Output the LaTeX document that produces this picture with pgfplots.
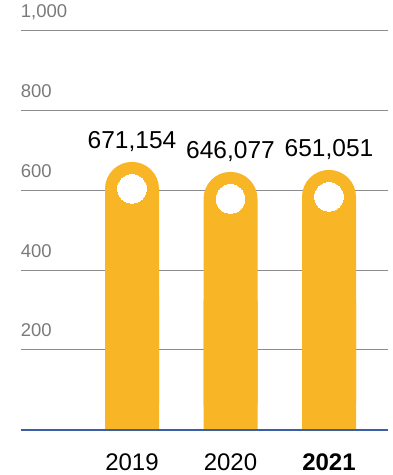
\documentclass[border=0pt]{standalone}
\usepackage{pgfplots}
\pgfplotsset{compat=1.18}
\usepackage{pgfplotstable}
\usepackage{fontspec}
\setmainfont{Liberation Sans}
\definecolor{barorange}{HTML}{F8B526}
\definecolor{gridgray}{HTML}{8C8C8C}
\definecolor{labgray}{HTML}{7A7A7A}
\definecolor{baseblue}{HTML}{3B5EA6}
\pgfplotstableread{
x v label
0 671.154 671,154
1 646.077 646,077
2 651.051 651,051
}\data
\begin{document}
\begin{tikzpicture}
\path[use as bounding box] (-20.7pt,-45.5pt) rectangle (372.3pt,429.5pt);
\begin{axis}[
 at={(0,0)}, anchor=south west,
 scale only axis, width=367.3pt, height=398.75pt,
 xmin=-1.13, xmax=2.599, ymin=0, ymax=1000,
 axis line style={draw=none}, tick style={draw=none},
 ymajorgrids, grid style={gridgray, line width=0.8pt},
 ytick={200,400,600,800,1000}, yticklabels={200,400,600,800,{1,000}},
 yticklabel style={anchor=base west, inner sep=0pt, yshift=13pt, text=labgray, font=\fontsize{18.5}{18.5}\selectfont},
 xtick={0,1,2}, xticklabels={2019,2020,\textbf{2021}},
 xticklabel style={anchor=base, inner sep=0pt, yshift=-41pt, font=\fontsize{24}{24}\selectfont},
 clip=false,
]
\addplot[ybar, bar width=54pt, bar shift=0pt, fill=barorange, draw=none, rounded corners=27pt,
  nodes near coords, point meta=explicit symbolic,
  every node near coord/.append style={anchor=base, yshift=13pt, inner sep=0pt, text=black, font=\fontsize{24.5}{25}\selectfont}]
  table[x=x, y=v, meta=label]{\data};
\addplot[ybar, bar width=54pt, bar shift=0pt, fill=barorange, draw=none]
  table[x=x, y expr=\thisrow{v}/2]{\data};
\addplot[white, only marks, mark=*, mark size=14.3pt, mark options={fill=white, draw=white, line width=0pt, yshift=-27pt}]
  table[x=x, y=v]{\data};
\addplot[baseblue, line width=2pt, mark=none] coordinates {(-1.13,0) (2.599,0)};
\end{axis}
\end{tikzpicture}
\end{document}
